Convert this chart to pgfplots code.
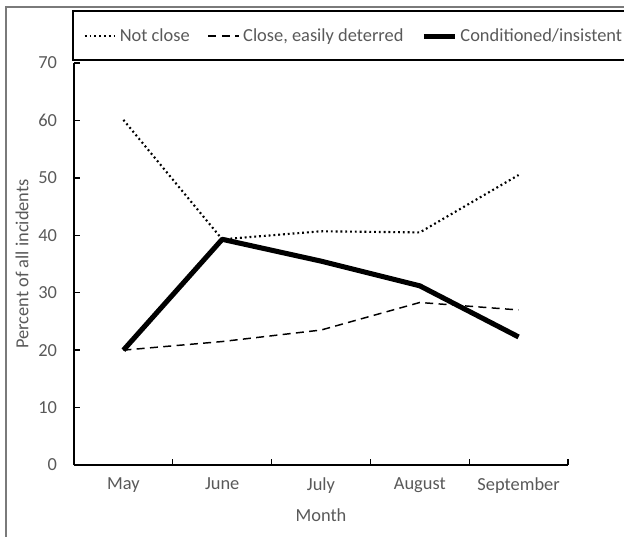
\documentclass[border=0pt]{standalone}
\usepackage{pgfplots}
\pgfplotsset{compat=1.18}
\usepackage{fontspec}
\setmainfont{Carlito}
\definecolor{txt}{HTML}{595959}
\definecolor{frm}{HTML}{7A7A7A}
\begin{document}
\fontsize{13.8}{16.5}\selectfont
\begin{tikzpicture}
\useasboundingbox (0,0) rectangle (468pt,402pt);
\draw[frm, line width=1.5pt] (4.5pt,-5pt) -- (4.5pt,396.75pt) -- (480pt,396.75pt);
\draw[black, line width=0.8pt] (54.75pt,357pt) rectangle (480pt,393.75pt);
\begin{axis}[
  at={(55.5pt,53.25pt)}, anchor=south west,
  scale only axis, width=370.5pt, height=301.5pt,
  xmin=0.5, xmax=5.5, ymin=0, ymax=70,
  axis x line=bottom, axis y line=left,
  axis line style={black, line width=1pt, -},
  tick align=inside, major tick length=4.5pt,
  tick style={black, line width=1pt},
  xtick={0.5,1.5,...,5.5}, xticklabels={},
  extra x ticks={1,2,3,4,5},
  extra x tick labels={May,June,July,August,September},
  extra x tick style={major tick length=0pt, tick label style={yshift=-5pt}},
  ytick={0,10,...,70},
  yticklabel style={xshift=-8pt},
  /pgf/number format/assume math mode=true,
  tick label style={text=txt},
  xlabel={Month}, ylabel={Percent of all incidents},
  xlabel style={text=txt, at={(axis description cs:0.5,-0.125)}, anchor=center},
  ylabel style={text=txt, at={(axis description cs:-0.105,0.5)}, anchor=center},
  legend style={at={(axis description cs:0.568,1.067)}, anchor=center, draw=none, fill=none,
    text=txt, legend columns=3,
    nodes={inner xsep=2.5pt},
    /tikz/every even column/.append style={column sep=11pt},
    /tikz/every odd column/.append style={column sep=0pt}},
  legend image code/.code={\draw[#1] (0pt,0pt) -- (23pt,0pt);},
  clip=false,
]
\addplot[black, line width=1.6pt, dash pattern=on 1.4pt off 2.2pt] coordinates {(1,60.1) (2,39.3) (3,40.7) (4,40.5) (5,50.5)};
\addlegendentry{Not close}
\addplot[black, line width=1.1pt, dash pattern=on 6pt off 4pt] coordinates {(1,20) (2,21.5) (3,23.5) (4,28.3) (5,27)};
\addlegendentry{Close, easily deterred}
\addplot[black, line width=3.8pt, line join=round] coordinates {(1,20) (2,39.3) (3,35.5) (4,31.2) (5,22.3)};
\addlegendentry{Conditioned/insistent}
\end{axis}
\end{tikzpicture}
\end{document}
